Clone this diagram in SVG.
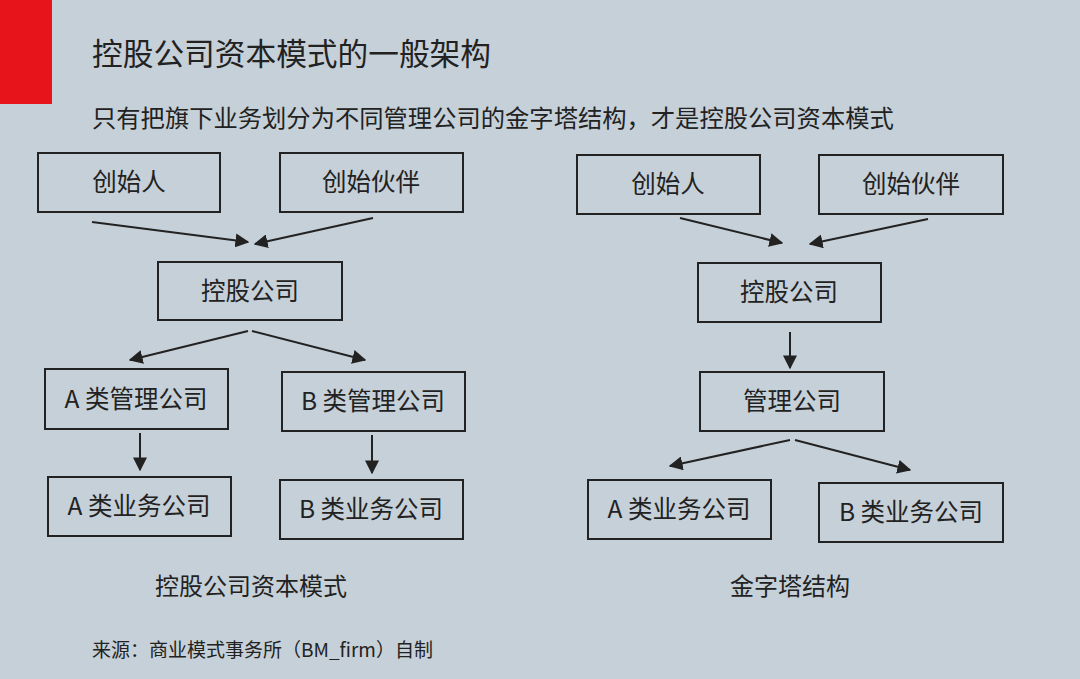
<svg xmlns="http://www.w3.org/2000/svg" width="1080" height="679" viewBox="0 0 1080 679">
<style>
text{font-family:"Noto Sans CJK SC","Liberation Sans",sans-serif;fill:#222}
.b rect{fill:none;stroke:#222;stroke-width:2}
.b text{font-size:24.5px;text-anchor:middle}
.c line{stroke:#222;stroke-width:2;marker-end:url(#a)}
</style>
<defs><marker id="a" viewBox="0 0 10 10" refX="9" refY="5" markerWidth="7" markerHeight="7" orient="auto"><path d="M0,0L10,5L0,10z" fill="#222"/></marker></defs>
<rect width="1080" height="679" fill="#c6d0d8"/>
<rect width="52" height="104" fill="#e8141b"/>
<text x="92" y="65" font-size="30.7">控股公司资本模式的一般架构</text>
<text x="92" y="127" font-size="24.3">只有把旗下业务划分为不同管理公司的金字塔结构，才是控股公司资本模式</text>
<g class="b">
<g id="l1"><rect x="38" y="153" width="182" height="59"/><text x="129" y="191">创始人</text></g>
<g id="l2"><rect x="280" y="153" width="183" height="59"/><text x="371" y="191">创始伙伴</text></g>
<g id="l3"><rect x="158" y="262" width="184" height="58"/><text x="250" y="300">控股公司</text></g>
<g id="l4"><rect x="45" y="369" width="183" height="60"/><text x="136" y="408">A 类管理公司</text></g>
<g id="l5"><rect x="282" y="372" width="183" height="59"/><text x="373" y="410">B 类管理公司</text></g>
<g id="l6"><rect x="48" y="477" width="183" height="59"/><text x="139" y="515">A 类业务公司</text></g>
<g id="l7"><rect x="280" y="480" width="183" height="59"/><text x="371" y="518">B 类业务公司</text></g>
<g id="r1"><rect x="577" y="155" width="183" height="59"/><text x="668" y="193">创始人</text></g>
<g id="r2"><rect x="819" y="155" width="184" height="59"/><text x="911" y="193">创始伙伴</text></g>
<g id="r3"><rect x="698" y="263" width="183" height="59"/><text x="789" y="301">控股公司</text></g>
<g id="r4"><rect x="700" y="372" width="184" height="59"/><text x="792" y="410">管理公司</text></g>
<g id="r5"><rect x="588" y="480" width="183" height="59"/><text x="679" y="518">A 类业务公司</text></g>
<g id="r6"><rect x="819" y="483" width="184" height="59"/><text x="911" y="521">B 类业务公司</text></g>
</g>
<g class="c">
<line x1="92" y1="222" x2="248" y2="242"/>
<line x1="373" y1="218" x2="255" y2="244"/>
<line x1="248" y1="331" x2="130" y2="360"/>
<line x1="252" y1="331" x2="365" y2="360"/>
<line x1="140" y1="433" x2="140" y2="470"/>
<line x1="372" y1="435" x2="372" y2="473"/>
<line x1="680" y1="218" x2="782" y2="243"/>
<line x1="928" y1="219" x2="810" y2="244"/>
<line x1="790" y1="332" x2="790" y2="368"/>
<line x1="790" y1="440" x2="670" y2="466"/>
<line x1="795" y1="440" x2="910" y2="470"/>
</g>
<text x="251" y="595" font-size="24" text-anchor="middle">控股公司资本模式</text>
<text x="790" y="595" font-size="24" text-anchor="middle">金字塔结构</text>
<text x="92" y="657" font-size="19">来源：商业模式事务所（BM_firm）自制</text>
</svg>
